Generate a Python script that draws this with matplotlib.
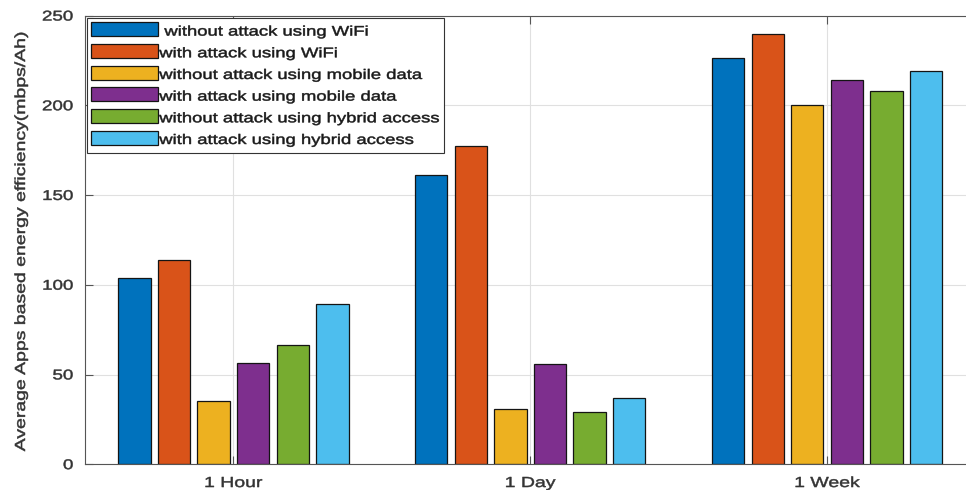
import numpy as np
import matplotlib
matplotlib.use("Agg")
import matplotlib.pyplot as plt
from matplotlib.patheffects import AbstractPathEffect
from matplotlib.transforms import Affine2D
from matplotlib.textpath import TextToPath

# ---- data -------------------------------------------------------------
categories = ["1 Hour", "1 Day", "1 Week"]

series_labels = [
    " without attack using WiFi",
    "with attack using WiFi",
    "without attack using mobile data",
    "with attack using mobile data",
    "without attack using hybrid access",
    "with attack using hybrid access",
]

wifi_without = [104.0, 161.5, 226.5]
wifi_with = [114.0, 177.5, 240.0]
mobile_without = [35.0, 31.0, 200.5]
mobile_with = [56.5, 56.0, 214.0]
hybrid_without = [66.5, 29.0, 208.0]
hybrid_with = [89.5, 37.0, 219.0]

y_ticks = [0, 50, 100, 150, 200, 250]

series_values = [wifi_without, wifi_with, mobile_without,
                 mobile_with, hybrid_without, hybrid_with]
series_colors = ["#0072BD", "#D95319", "#EDB120",
                 "#7E2F8E", "#77AC30", "#4DBEEE"]


class Squash(AbstractPathEffect):
    """Draw text glyphs flattened vertically about a reference line
    (given as a fraction of the em, measured from the baseline),
    with a thin outline in the text colour for a slightly heavier look."""

    def __init__(self, sy=0.75, anchor=0.0, stroke=0.35):
        super().__init__()
        self.sy = sy
        self.anchor = anchor
        self.stroke = stroke

    def draw_path(self, renderer, gc, tpath, affine, rgbFace=None):
        y0 = self.anchor * TextToPath.FONT_SCALE
        squash = Affine2D().translate(0, -y0).scale(1, self.sy).translate(0, y0)
        gc0 = renderer.new_gc()
        gc0.copy_properties(gc)
        if rgbFace is not None:
            gc0.set_foreground(rgbFace)
        gc0.set_linewidth(self.stroke)
        renderer.draw_path(gc0, tpath, squash + affine, rgbFace)
        gc0.restore()


plt.rcParams["font.family"] = ["Liberation Sans", "DejaVu Sans"]

W, H = 966, 490
fig = plt.figure(figsize=(W / 100, H / 100), dpi=100)
fig.patch.set_facecolor("white")

# axes box (right side runs slightly past the canvas edge)
left_px, right_px, top_px, bottom_px = 85.0, 975.5, 15.7, 464.3
ax = fig.add_axes([left_px / W, 1 - bottom_px / H,
                   (right_px - left_px) / W, (bottom_px - top_px) / H])

x = np.arange(1, len(categories) + 1)
n = len(series_values)
pitch = 0.8 / n
bar_w = 0.109

for i, (vals, col, lab) in enumerate(zip(series_values, series_colors, series_labels)):
    ax.bar(x + (i - (n - 1) / 2) * pitch, vals, width=bar_w, color=col,
           edgecolor="#141414", linewidth=0.9, label=lab, zorder=2)

ax.set_xlim(0.5, 3.5)
ax.set_ylim(0, 250)
ax.set_xticks(x, categories)
ax.set_yticks(y_ticks)

ax.set_axisbelow(True)
ax.grid(True, color="#e0e0e0", linewidth=0.8)

for s in ax.spines.values():
    s.set_color("#555555")
    s.set_linewidth(0.8)

ax.tick_params(axis="both", direction="in", length=6, width=0.8,
               color="#555555", labelcolor="#333333",
               top=True, right=True)
ax.tick_params(axis="x", labelsize=14, pad=7)
ax.tick_params(axis="y", labelsize=13.5, pad=8.3)

for lbl in ax.get_xticklabels():
    lbl.set_path_effects([Squash(0.75, 0.0)])
for lbl in ax.get_yticklabels():
    lbl.set_path_effects([Squash(0.75, 0.36)])

ax.set_ylabel("Average Apps based energy efficiency(mbps/Ah)",
              fontsize=14, color="#333333")
ax.yaxis.set_label_coords(-0.0629, 0.5)
ax.yaxis.label.set_path_effects([Squash(0.75, 0.0)])

leg = ax.legend(loc="upper left", prop={"size": 13.3},
                handlelength=3.62, handleheight=0.79, handletextpad=0.05,
                labelspacing=0.23, borderpad=0.25, borderaxespad=0.1,
                frameon=True, fancybox=False, framealpha=1,
                edgecolor="#333333")
leg.get_frame().set_linewidth(0.8)
for t in leg.get_texts():
    t.set_color("#1a1a1a")
    t.set_path_effects([Squash(0.75, 0.0)])

fig.savefig("out.png", dpi=100)
